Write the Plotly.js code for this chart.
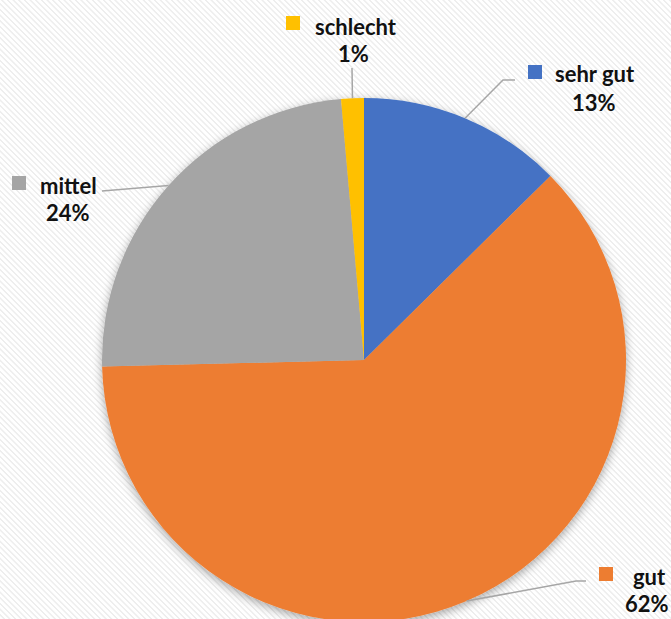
<!DOCTYPE html>
<html>
<head>
<meta charset="utf-8">
<script src="https://cdn.plot.ly/plotly-3.0.1.min.js"></script>
<style>
  html, body { margin:0; padding:0; overflow:hidden; width:671px; height:619px; }
  body {
    background-color:#ffffff;
    background-image: repeating-linear-gradient(45deg, #ffffff 0px, #ffffff 2px, #eeeeee 2.5px, #eeeeee 3.5px, #ffffff 4px);
  }
  #chart { width:671px; height:640px; }
</style>
</head>
<body>
<div id="chart"></div>
<script>
// ---- data ----
const categories = ['sehr gut', 'gut', 'mittel', 'schlecht'];
const values = [12.6, 62.0, 24.0, 1.4];
const colors = ['#4472C4', '#ED7D31', '#A5A5A5', '#FFC000'];

// ---- layout (pixels) ----
const W = 671, H = 640;
const pieBox = { left: 102, right: 626, top: 98, bottom: 622 };
const labelLayout = [
  { nameX: 553, cx: 594, y1: 74, y2: 102, sq: [528, 65], path: [[503, 80], [515, 80]] },
  { nameX: 631, cx: 646.5, y1: 576, y2: 603, sq: [599, 567], path: [[576, 581], [586, 581]] },
  { nameX: 38, cx: 68, y1: 185, y2: 213, sq: [12, 176], path: [[102, 191]] },
  { nameX: 313, cx: 353, y1: 26, y2: 54, sq: [286, 16], path: [[352, 68]] }
];
const FONT = { family: 'Lato, "Open Sans", sans-serif', size: 22, color: '#111111' };

const px = x => x / W;
const py = y => 1 - y / H;

const total = values.reduce((a, b) => a + b, 0);
const cxP = (pieBox.left + pieBox.right) / 2;
const cyP = (pieBox.top + pieBox.bottom) / 2;
const R = (pieBox.right - pieBox.left) / 2;

const shapes = [];
const annotations = [];
let cum = 0;
values.forEach((v, i) => {
  const mid = (cum + v / 2) / total * 2 * Math.PI;
  cum += v;
  const ex = cxP + R * Math.sin(mid);
  const ey = cyP - R * Math.cos(mid);
  const L = labelLayout[i];
  let d = 'M ' + px(ex) + ' ' + py(ey);
  L.path.forEach(p => { d += ' L ' + px(p[0]) + ' ' + py(p[1]); });
  shapes.push({ type: 'path', xref: 'paper', yref: 'paper', path: d,
    line: { color: '#A6A6A6', width: 1.5 } });
  shapes.push({ type: 'rect', xref: 'paper', yref: 'paper',
    x0: px(L.sq[0]), x1: px(L.sq[0] + 14), y0: py(L.sq[1]), y1: py(L.sq[1] + 14),
    fillcolor: colors[i], line: { width: 0 } });
  annotations.push({ xref: 'paper', yref: 'paper', x: px(L.nameX), y: py(L.y1),
    xanchor: 'left', yanchor: 'middle', showarrow: false,
    text: '<b>' + categories[i] + '</b>', font: FONT });
  annotations.push({ xref: 'paper', yref: 'paper', x: px(L.cx), y: py(L.y2),
    xanchor: 'center', yanchor: 'middle', showarrow: false,
    text: '<b>' + Math.round(v / total * 100) + '%</b>', font: FONT });
});

const trace = {
  type: 'pie',
  labels: categories,
  values: values,
  sort: false,
  direction: 'clockwise',
  rotation: 0,
  textinfo: 'none',
  hoverinfo: 'label+percent',
  marker: { colors: colors, line: { width: 0 } },
  domain: { x: [px(pieBox.left), px(pieBox.right)], y: [py(pieBox.bottom), py(pieBox.top)] },
  showlegend: false
};

const layout = {
  width: W, height: H,
  margin: { l: 0, r: 0, t: 0, b: 0 },
  paper_bgcolor: 'rgba(0,0,0,0)',
  plot_bgcolor: 'rgba(0,0,0,0)',
  showlegend: false,
  shapes: shapes,
  annotations: annotations
};

Plotly.newPlot('chart', [trace], layout, { displayModeBar: false, staticPlot: true }).then(gd => {
  const svg = gd.querySelector('svg.main-svg');
  const ns = 'http://www.w3.org/2000/svg';
  let defs = svg.querySelector('defs');
  if (!defs) { defs = document.createElementNS(ns, 'defs'); svg.insertBefore(defs, svg.firstChild); }
  const f = document.createElementNS(ns, 'filter');
  f.setAttribute('id', 'pieShadow');
  f.setAttribute('x', '-20%'); f.setAttribute('y', '-20%');
  f.setAttribute('width', '140%'); f.setAttribute('height', '140%');
  const ds = document.createElementNS(ns, 'feDropShadow');
  ds.setAttribute('dx', '0'); ds.setAttribute('dy', '3');
  ds.setAttribute('stdDeviation', '5');
  ds.setAttribute('flood-color', '#000'); ds.setAttribute('flood-opacity', '0.35');
  f.appendChild(ds);
  defs.appendChild(f);
  gd.querySelectorAll('.pielayer .trace').forEach(t => t.setAttribute('filter', 'url(#pieShadow)'));
});
</script>
</body>
</html>
